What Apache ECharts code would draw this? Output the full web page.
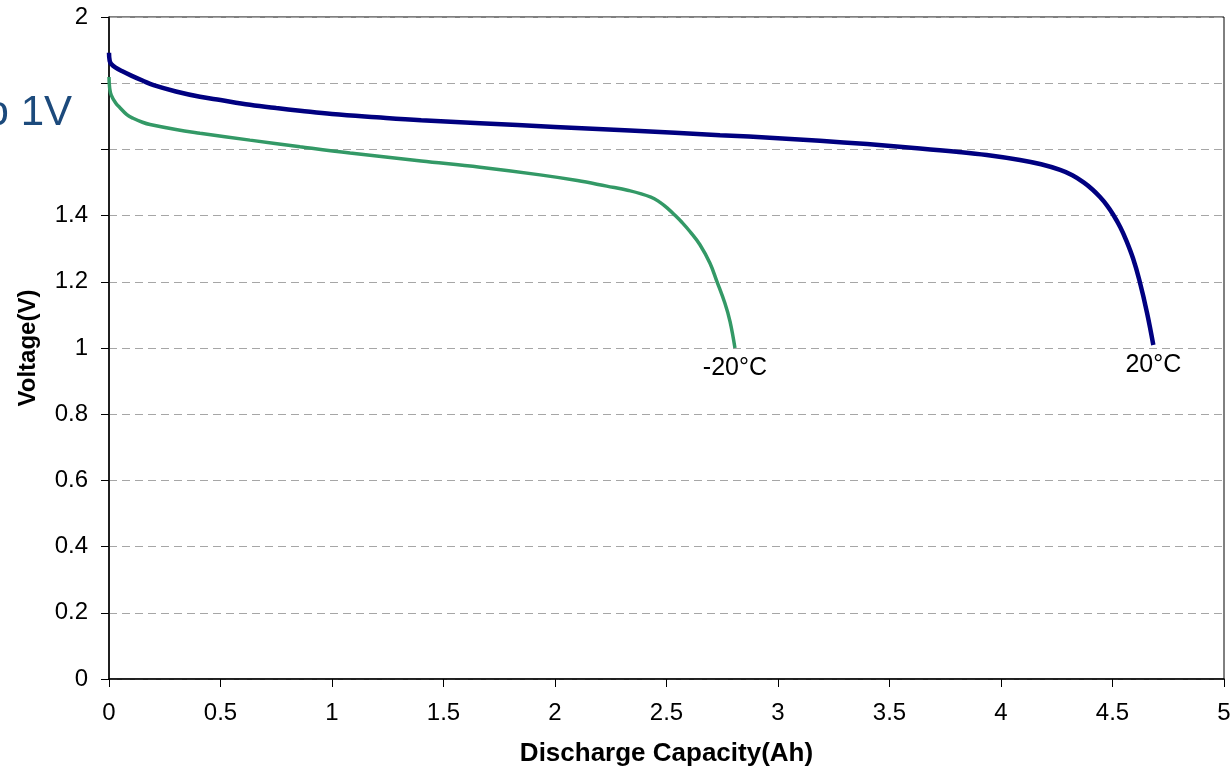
<!DOCTYPE html>
<html>
<head>
<meta charset="utf-8">
<script src="https://cdn.jsdelivr.net/npm/echarts@6/dist/echarts.min.js"></script>
<style>
  html, body { margin: 0; padding: 0; background: #fff; }
  #chart { width: 1231px; height: 768px; }
</style>
</head>
<body>
<div id="chart"></div>
<script>
// Discharge curves: capacity (Ah) vs. voltage (V)
const xTicks = { min: 0, max: 5, interval: 0.5 };
const yTicks = { min: 0, max: 2, interval: 0.2 };
const hiddenYLabels = [1.6, 1.8];

const seriesNames = ['20°C', '-20°C'];

const curve20C = [
  [0, 1.892], [0.003, 1.868], [0.01, 1.858], [0.03, 1.847], [0.06, 1.836],
  [0.1, 1.823], [0.15, 1.808], [0.2, 1.794], [0.3, 1.775], [0.408, 1.759],
  [0.5, 1.749], [0.632, 1.735], [0.75, 1.725], [0.857, 1.717], [1.0, 1.707],
  [1.2, 1.697], [1.4, 1.688], [1.664, 1.679], [2.0, 1.668], [2.336, 1.657],
  [2.74, 1.643], [3.0, 1.634], [3.188, 1.626], [3.4, 1.616], [3.637, 1.603],
  [3.8, 1.593], [3.936, 1.583], [4.085, 1.568], [4.18, 1.555], [4.265, 1.538],
  [4.32, 1.522], [4.369, 1.501], [4.41, 1.479], [4.444, 1.456], [4.475, 1.431],
  [4.502, 1.404], [4.535, 1.365], [4.563, 1.323], [4.592, 1.271], [4.62, 1.206],
  [4.655, 1.106], [4.683, 1.009]
];

const curveMinus20C = [
  [0, 1.819], [0.003, 1.785], [0.01, 1.764], [0.03, 1.74], [0.049, 1.726],
  [0.08, 1.705], [0.108, 1.694], [0.15, 1.682], [0.184, 1.675], [0.3, 1.66],
  [0.408, 1.649], [0.632, 1.628], [0.857, 1.608], [1.081, 1.589], [1.4, 1.565],
  [1.664, 1.546], [1.933, 1.523], [2.1, 1.506], [2.232, 1.489], [2.33, 1.476],
  [2.43, 1.456], [2.471, 1.44], [2.505, 1.422], [2.538, 1.401], [2.57, 1.379],
  [2.605, 1.352], [2.65, 1.312], [2.695, 1.256], [2.725, 1.203], [2.762, 1.135],
  [2.785, 1.08], [2.807, 1.0]
];

const xAxisName = 'Discharge Capacity(Ah)';
const yAxisName = 'Voltage(V)';
const sideText = 'to 1V';

const FONT = '"Liberation Sans", Arial, sans-serif';

// temperature tag placed under the final point of a curve
function endTag(points, text) {
  const last = points[points.length - 1];
  return {
    symbol: 'circle', symbolSize: 0, silent: true,
    label: { show: true, position: 'bottom', distance: 8, formatter: text,
      fontFamily: FONT, fontSize: 25, color: '#000' },
    data: [{ coord: last }]
  };
}

const chart = echarts.init(document.getElementById('chart'), null, { renderer: 'canvas' });

chart.setOption({
  animation: false,
  backgroundColor: '#fff',
  grid: {
    left: 109, right: 7, top: 17, bottom: 89,
    outerBoundsMode: 'none', containLabel: false,
    show: true, borderColor: '#000', borderWidth: 1, backgroundColor: 'transparent'
  },
  graphic: [{
    type: 'text',
    x: 72, y: 92,
    style: { text: sideText, fontFamily: FONT, fontSize: 42, fill: '#1c4a7c', align: 'right' }
  }],
  xAxis: {
    type: 'value',
    min: xTicks.min, max: xTicks.max, interval: xTicks.interval,
    name: xAxisName, nameLocation: 'middle', nameGap: 62,
    nameTextStyle: { fontFamily: FONT, fontSize: 26, fontWeight: 'bold', color: '#000' },
    axisLine: { show: true, onZero: false, lineStyle: { color: '#000', width: 1.5 } },
    axisTick: { show: true, length: 8, lineStyle: { color: '#000' } },
    axisLabel: { fontFamily: FONT, fontSize: 24, color: '#000', margin: 22 },
    splitLine: { show: false }
  },
  yAxis: {
    type: 'value',
    min: yTicks.min, max: yTicks.max, interval: yTicks.interval,
    name: yAxisName, nameLocation: 'middle', nameGap: 69, nameRotate: 90,
    nameTextStyle: { fontFamily: FONT, fontSize: 24, fontWeight: 'bold', color: '#000' },
    axisLine: { show: true, onZero: false, lineStyle: { color: '#000', width: 1.5 } },
    axisTick: { show: true, length: 8, lineStyle: { color: '#000' } },
    axisLabel: {
      fontFamily: FONT, fontSize: 24, color: '#000', margin: 21,
      formatter: v => hiddenYLabels.some(h => Math.abs(h - v) < 1e-6) ? '' : String(+v.toFixed(1))
    },
    splitLine: { show: true, lineStyle: { color: '#a6a6a6', type: [8, 5], width: 1 } }
  },
  series: [
    {
      name: seriesNames[0], type: 'line', smooth: 0.4, symbol: 'none',
      lineStyle: { color: '#000080', width: 4.5 },
      data: curve20C, markPoint: endTag(curve20C, seriesNames[0]), z: 3
    },
    {
      name: seriesNames[1], type: 'line', smooth: 0.4, symbol: 'none',
      lineStyle: { color: '#339966', width: 3.5 },
      data: curveMinus20C, markPoint: endTag(curveMinus20C, seriesNames[1]), z: 2
    }
  ]
});
</script>
</body>
</html>
